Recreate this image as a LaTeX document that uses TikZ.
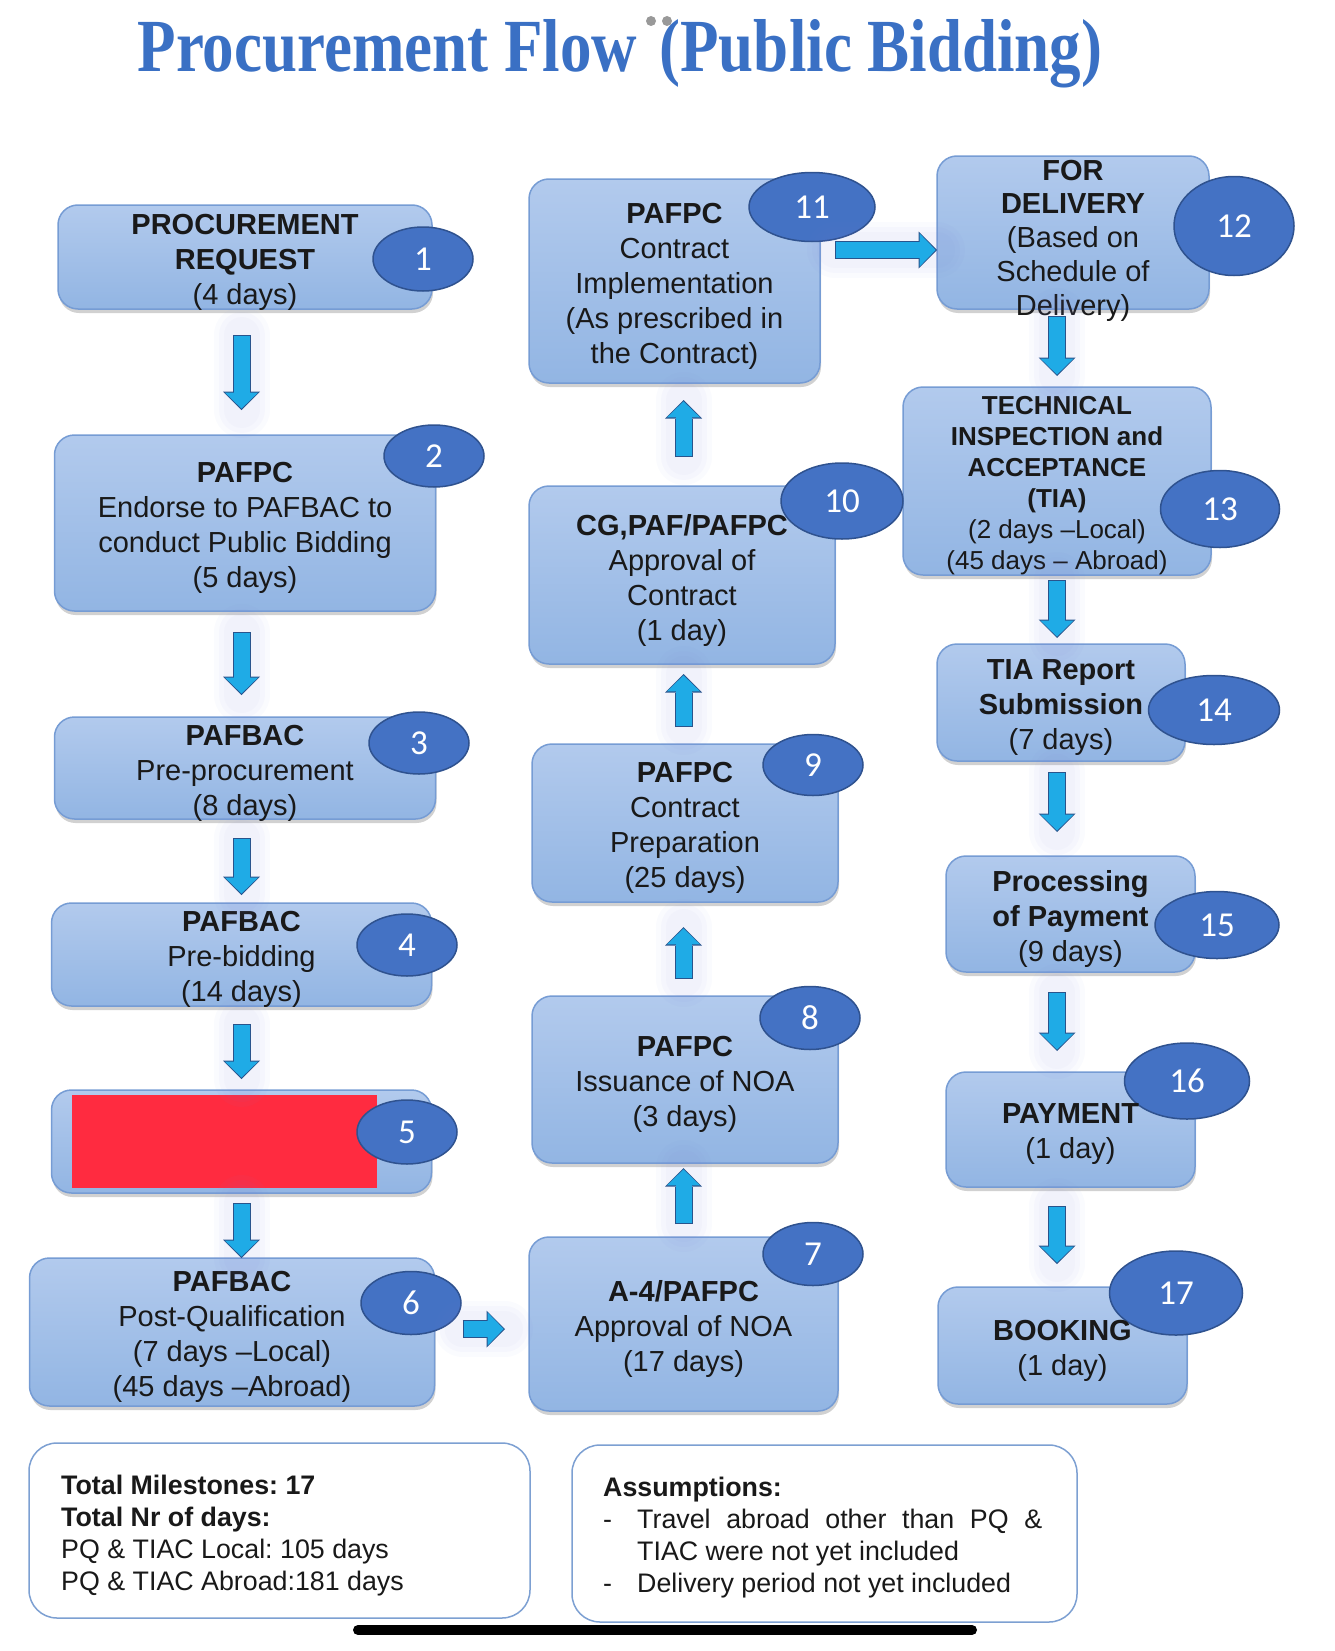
\documentclass[tikz,border=0pt]{standalone}
\usepackage{fontspec}
\setmainfont{Liberation Sans}
\newfontfamily\titlefont{Liberation Serif}
\newfontfamily\badgefont{Carlito}
\usepackage{xcolor}
\usetikzlibrary{arrows.meta,positioning,calc,shapes.geometric,shadows}
\frenchspacing

\definecolor{boxtop}{RGB}{178,202,237}
\definecolor{boxbottom}{RGB}{146,181,227}
\definecolor{boxedge}{RGB}{118,156,212}
\definecolor{badgefill}{RGB}{68,114,196}
\definecolor{badgeedge}{RGB}{47,82,143}
\definecolor{arrowfill}{RGB}{31,171,230}
\definecolor{arrowedge}{RGB}{41,84,140}
\definecolor{arrowglow}{RGB}{120,130,220}
\definecolor{titleblue}{RGB}{58,112,196}
\definecolor{noteedge}{RGB}{125,160,210}
\definecolor{redact}{RGB}{255,43,64}
\definecolor{inkdark}{RGB}{25,25,25}

\tikzset{
  stagebox/.style={
    draw=boxedge,
    line width=1.5pt,
    rounded corners=20pt,
    top color=boxtop,
    bottom color=boxbottom,
    inner sep=0pt,
    outer sep=0pt,
    drop shadow={shadow xshift=1pt, shadow yshift=-4pt, opacity=0.18, fill=black}
  },
  stagetext/.style={align=center, inner sep=0pt, yshift=-5pt, text=inkdark, font=\fontsize{29}{35}\selectfont},
  badge/.style={
    ellipse,
    draw=badgeedge,
    line width=1.5pt,
    fill=badgefill,
    inner sep=0pt,
    text=white,
    font=\badgefont\fontsize{35}{40}\selectfont
  },
  glowband/.style={draw=arrowglow, opacity=0.035, line width=#1, line cap=round, arrows=-, shorten <=0pt, shorten >=0pt},
  blockarrow/.style={
    draw=arrowfill, line width=16pt, shorten <=1pt, shorten >=1.4pt,
    -{Triangle[width=33pt, length=16pt, line width=0pt]},
    preaction={glowband=56pt},
    preaction={glowband=46pt},
    preaction={glowband=36pt},
    preaction={draw=arrowedge, line width=18pt, shorten <=0pt, shorten >=0pt,
      -{Triangle[width=37pt, length=18.5pt, line width=0pt]}}
  },
  notebox/.style={draw=noteedge, line width=1.5pt, rounded corners=28pt, fill=white, inner sep=0pt, outer sep=0pt},
  notetext/.style={align=left, inner sep=0pt, anchor=west, text=inkdark, font=\fontsize{26.8}{32}\selectfont},
  titletext/.style={inner sep=0pt, text=titleblue, font=\titlefont\bfseries\fontsize{75}{80}\selectfont}
}

\begin{document}
\begin{tikzpicture}[x=1pt, y=-1pt]
\useasboundingbox (0,0) rectangle (1334,1651);

% title
\node[titletext, anchor=base] (title) at (620,72) {\scalebox{0.84}[1]{Procurement Flow\hspace{0.1em} (Public Bidding)}};
\fill[black!40] (651,21) circle (5) (667,21) circle (5);

% first column
\node[stagebox, minimum width=374pt, minimum height=104pt] (b1) at (245,257) {};
\node[stagebox, minimum width=381pt, minimum height=176pt, below=126pt of b1] (b2) {};
\node[stagebox, minimum width=381pt, minimum height=102pt, below=106pt of b2] (b3) {};
\node[stagebox, minimum width=380pt, minimum height=103pt, below=84pt of b3, xshift=-3.5pt] (b4) {};
\node[stagebox, minimum width=380pt, minimum height=103pt, below=84pt of b4] (b5) {};
\node[stagebox, minimum width=405pt, minimum height=148pt, below=65pt of b5, xshift=-9.5pt] (b6) {};
\node[fill=redact, minimum width=305pt, minimum height=93pt, inner sep=0pt] (redaction) at ([xshift=-17.5pt]b5.center) {};

% second column
\node[stagebox, minimum width=309pt, minimum height=174pt] (b7) at (683.5,1324) {};
\node[stagebox, minimum width=306pt, minimum height=167pt, above=74pt of b7, xshift=1.5pt] (b8) {};
\node[stagebox, minimum width=306pt, minimum height=158pt, above=94pt of b8] (b9) {};
\node[stagebox, minimum width=306pt, minimum height=178pt, above=80pt of b9, xshift=-3pt] (b10) {};
\node[stagebox, minimum width=291pt, minimum height=204pt, above=103pt of b10, xshift=-7.5pt] (b11) {};

% third column
\node[stagebox, minimum width=272pt, minimum height=153pt] (b12) at (1073,232.5) {};
\node[stagebox, minimum width=308pt, minimum height=188pt, below=78pt of b12, xshift=-16pt] (b13) {};
\node[stagebox, minimum width=248pt, minimum height=117pt, below=69pt of b13, xshift=4pt] (b14) {};
\node[stagebox, minimum width=249pt, minimum height=116pt, below=95pt of b14, xshift=9.5pt] (b15) {};
\node[stagebox, minimum width=249pt, minimum height=115pt, below=100pt of b15] (b16) {};
\node[stagebox, minimum width=249pt, minimum height=117pt, below=100pt of b16, xshift=-8pt] (b17) {};

% step numbers
\node[badge, minimum width=100pt, minimum height=64pt] (c1) at (423,259) {1};
\node[badge, minimum width=100pt, minimum height=62pt] (c2) at (434,456) {2};
\node[badge, minimum width=100pt, minimum height=62pt] (c3) at (419,743) {3};
\node[badge, minimum width=100pt, minimum height=62pt] (c4) at (407,945) {4};
\node[badge, minimum width=100pt, minimum height=64pt] (c5) at (407,1132) {5};
\node[badge, minimum width=100pt, minimum height=63pt] (c6) at (411,1303) {6};
\node[badge, minimum width=100pt, minimum height=63pt] (c7) at (813,1254) {7};
\node[badge, minimum width=100pt, minimum height=63pt] (c8) at (810,1018) {8};
\node[badge, minimum width=100pt, minimum height=61pt] (c9) at (813,765) {9};
\node[badge, minimum width=122pt, minimum height=76pt] (c10) at (842,501) {10};
\node[badge, minimum width=126pt, minimum height=69pt] (c11) at (812,207) {11};
\node[badge, minimum width=120pt, minimum height=99pt] (c12) at (1234,226) {12};
\node[badge, minimum width=119pt, minimum height=77pt] (c13) at (1220,509) {13};
\node[badge, minimum width=131pt, minimum height=69pt] (c14) at (1214,710) {14};
\node[badge, minimum width=124pt, minimum height=67pt] (c15) at (1217,925) {15};
\node[badge, minimum width=125pt, minimum height=76pt] (c16) at (1187,1081) {16};
\node[badge, minimum width=133pt, minimum height=84pt] (c17) at (1176,1293) {17};

% box texts
\node[stagetext] at (b1) {\textbf{PROCUREMENT}\\\textbf{REQUEST}\\(4 days)};
\node[stagetext] at (b2) {\textbf{PAFPC}\\Endorse to PAFBAC to\\conduct Public Bidding\\(5 days)};
\node[stagetext] at (b3) {\textbf{PAFBAC}\\Pre-procurement\\(8 days)};
\node[stagetext] at (b4) {\textbf{PAFBAC}\\Pre-bidding\\(14 days)};
\node[stagetext] at (b6) {\textbf{PAFBAC}\\Post-Qualification\\(7 days –Local)\\(45 days –Abroad)};
\node[stagetext] at (b7) {\textbf{A-4/PAFPC}\\Approval of NOA\\(17 days)};
\node[stagetext] at (b8) {\textbf{PAFPC}\\Issuance of NOA\\(3 days)};
\node[stagetext] at (b9) {\textbf{PAFPC}\\Contract\\Preparation\\(25 days)};
\node[stagetext] at (b10) {\textbf{CG,PAF/PAFPC}\\Approval of\\Contract\\(1 day)};
\node[stagetext] at (b11) {\textbf{PAFPC}\\Contract\\Implementation\\(As prescribed in\\the Contract)};
\node[stagetext, font=\fontsize{29}{33.7}\selectfont] at ([yshift=-3pt]b12.center) {\textbf{FOR}\\\textbf{DELIVERY}\\(Based on\\Schedule of\\Delivery)};
\node[stagetext, font=\fontsize{26}{31}\selectfont] at (b13) {\textbf{TECHNICAL}\\\textbf{INSPECTION and}\\\textbf{ACCEPTANCE}\\\textbf{(TIA)}\\(2 days –Local)\\(45 days – Abroad)};
\node[stagetext] at (b14) {\textbf{TIA Report}\\\textbf{Submission}\\(7 days)};
\node[stagetext] at (b15) {\textbf{Processing}\\\textbf{of Payment}\\(9 days)};
\node[stagetext] at (b16) {\textbf{PAYMENT}\\(1 day)};
\node[stagetext] at (b17) {\textbf{BOOKING}\\(1 day)};

% flow arrows
\draw[blockarrow] ($(b1.south -| b4)+(0,26)$) -- ($(b2.north -| b4)+(0,-25)$);
\draw[blockarrow] ($(b2.south -| b4)+(0,21)$) -- ($(b3.north -| b4)+(0,-22)$);
\draw[blockarrow] ($(b3.south -| b4)+(0,19)$) -- ($(b4.north)+(0,-8)$);
\draw[blockarrow] ($(b4.south)+(0,18)$) -- ($(b5.north)+(0,-11)$);
\draw[blockarrow] ($(b5.south)+(0,10)$) -- (b6.north -| b5);
\draw[blockarrow] ($(b6.east)+(28,-3)$) -- ($(b6.east -| b7.west)+(-24,-3)$);
\draw[blockarrow] ($(b7.north)+(0,-13)$) -- ($(b8.south -| b7)+(0,5)$);
\draw[blockarrow] ($(b8.north -| b7)+(0,-17)$) -- ($(b9.south -| b7)+(0,25)$);
\draw[blockarrow] ($(b9.north -| b7)+(0,-17)$) -- ($(b10.south -| b7)+(0,10)$);
\draw[blockarrow] ($(b10.north -| b7)+(0,-29)$) -- ($(b11.south -| b7)+(0,17)$);
\draw[blockarrow] ($(b12.west -| b11.east)+(15,17.5)$) -- ($(b12.west)+(0,17.5)$);
\draw[blockarrow] ($(b12.south -| b13)+(0,7)$) -- ($(b13.north)+(0,-11)$);
\draw[blockarrow] ($(b13.south)+(0,5)$) -- ($(b14.north -| b13)+(0,-6)$);
\draw[blockarrow] ($(b14.south -| b13)+(0,11)$) -- ($(b15.north -| b13)+(0,-24)$);
\draw[blockarrow] ($(b15.south -| b13)+(0,20)$) -- ($(b16.north -| b13)+(0,-21)$);
\draw[blockarrow] ($(b16.south -| b13)+(0,19)$) -- ($(b17.north -| b13)+(0,-23)$);

% totals and assumptions
\node[notebox, minimum width=501pt, minimum height=175pt] (summary) at (279.5,1530.5) {};
\node[notebox, minimum width=505pt, minimum height=177pt, right=42pt of summary, yshift=-3pt] (assume) {};
\node[notetext] (summarytext) at ([xshift=32pt, yshift=-5.5pt]summary.west) {\textbf{Total Milestones: 17}\\\textbf{Total Nr of days:}\\PQ \& TIAC Local: 105 days\\PQ \& TIAC Abroad:181 days};
\node[notetext] (assumetext) at ([xshift=31pt, yshift=-4pt]assume.west) {\textbf{Assumptions:}\\\makebox[34pt][l]{-}\makebox[405pt][s]{Travel abroad other than PQ \&}\\\hspace*{34pt}TIAC were not yet included\\\makebox[34pt][l]{-}Delivery period not yet included};

\draw[line width=10pt, line cap=round] (358,1630) -- (972,1630);
\end{tikzpicture}
\end{document}
